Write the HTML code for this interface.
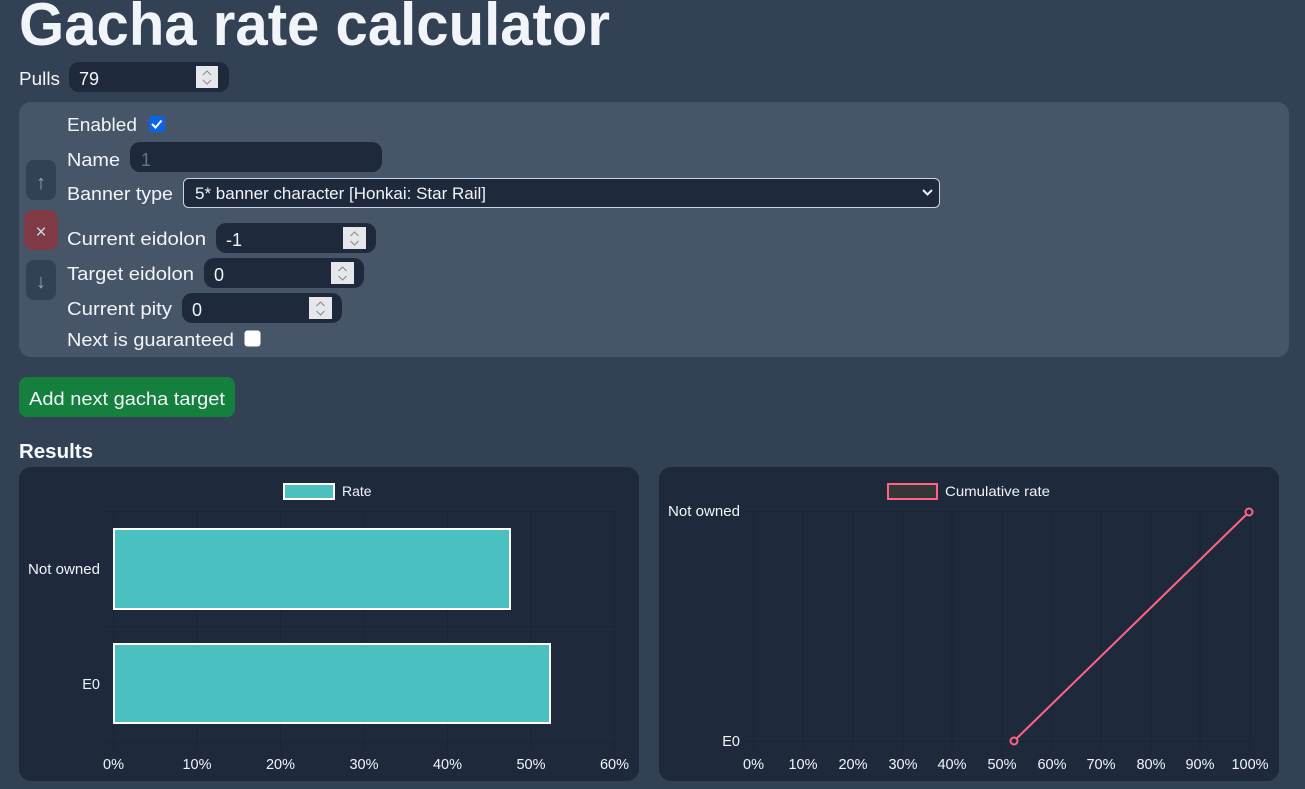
<!DOCTYPE html>
<html><head><meta charset="utf-8"><style>
html,body{margin:0;padding:0;background:#334155;}
svg{display:block;}
text{font-family:"Liberation Sans",sans-serif;}
</style></head><body>
<svg width="1305" height="789" viewBox="0 0 1305 789" xmlns="http://www.w3.org/2000/svg">
<rect width="1305" height="789" fill="#334155"/>
<text x="19" y="45" font-size="60" font-weight="bold" fill="#f1f5f9" textLength="591" lengthAdjust="spacingAndGlyphs">Gacha rate calculator</text>
<!-- Pulls -->
<text x="19" y="85" font-size="18" fill="#f1f5f9" textLength="41" lengthAdjust="spacingAndGlyphs">Pulls</text>
<rect x="69" y="62" width="160" height="30" rx="10" fill="#1e293b"/>
<text x="79" y="85" font-size="18" fill="#f1f5f9">79</text>
<rect x="196" y="66" width="22" height="22" fill="#e5e7eb"/>
<path d="M203 75 l4 -4 l4 4 M203 80 l4 4 l4 -4" stroke="#888" fill="none" stroke-width="1"/>
<!-- Panel -->
<rect x="19" y="102" width="1270" height="255" rx="12" fill="#475569"/>
<text x="67" y="131" font-size="18" fill="#f1f5f9" textLength="70" lengthAdjust="spacingAndGlyphs">Enabled</text>
<rect x="149" y="116" width="16" height="16" rx="3" fill="#0b63e5"/>
<path d="M152 124 l3.5 3.5 l6 -7" stroke="#fff" stroke-width="2" fill="none"/>
<text x="67" y="166" font-size="18" fill="#f1f5f9" textLength="53" lengthAdjust="spacingAndGlyphs">Name</text>
<rect x="130" y="142" width="252" height="30" rx="10" fill="#1e293b"/>
<text x="141" y="166" font-size="18" fill="#64748b">1</text>
<text x="67" y="200" font-size="18" fill="#f1f5f9" textLength="106" lengthAdjust="spacingAndGlyphs">Banner type</text>
<rect x="183.5" y="178.5" width="756" height="29" rx="5" fill="#1e293b" stroke="#cbd5e1" stroke-width="1"/>
<text x="195" y="199" font-size="17" fill="#f1f5f9" textLength="291" lengthAdjust="spacingAndGlyphs">5* banner character [Honkai: Star Rail]</text>
<path d="M923 190 l4.5 4.5 l4.5 -4.5" stroke="#f1f5f9" stroke-width="2" fill="none"/>
<rect x="26" y="160" width="30" height="40" rx="8" fill="#334155"/>
<text x="41" y="189" font-size="20" fill="#94a3b8" text-anchor="middle">↑</text>
<rect x="24" y="210" width="34" height="40" rx="9" fill="#7f3a45"/>
<text x="41" y="238" font-size="19" fill="#cbd5e1" text-anchor="middle">×</text>
<rect x="26" y="260" width="30" height="40" rx="8" fill="#334155"/>
<text x="41" y="288" font-size="20" fill="#94a3b8" text-anchor="middle">↓</text>
<text x="67" y="245" font-size="18" fill="#f1f5f9" textLength="139" lengthAdjust="spacingAndGlyphs">Current eidolon</text>
<rect x="216" y="223" width="160" height="30" rx="10" fill="#1e293b"/>
<text x="226" y="246" font-size="18" fill="#f1f5f9">-1</text>
<rect x="343" y="227" width="23" height="22" fill="#e5e7eb"/>
<path d="M350.5 236 l4 -4 l4 4 M350.5 241 l4 4 l4 -4" stroke="#888" fill="none"/>
<text x="67" y="280" font-size="18" fill="#f1f5f9" textLength="127" lengthAdjust="spacingAndGlyphs">Target eidolon</text>
<rect x="204" y="258" width="160" height="30" rx="10" fill="#1e293b"/>
<text x="214" y="281" font-size="18" fill="#f1f5f9">0</text>
<rect x="331" y="262" width="23" height="22" fill="#e5e7eb"/>
<path d="M338.5 271 l4 -4 l4 4 M338.5 276 l4 4 l4 -4" stroke="#888" fill="none"/>
<text x="67" y="315" font-size="18" fill="#f1f5f9" textLength="105" lengthAdjust="spacingAndGlyphs">Current pity</text>
<rect x="182" y="293" width="160" height="30" rx="10" fill="#1e293b"/>
<text x="192" y="316" font-size="18" fill="#f1f5f9">0</text>
<rect x="309" y="297" width="23" height="22" fill="#e5e7eb"/>
<path d="M316.5 306 l4 -4 l4 4 M316.5 311 l4 4 l4 -4" stroke="#888" fill="none"/>
<text x="67" y="346" font-size="18" fill="#f1f5f9" textLength="167" lengthAdjust="spacingAndGlyphs">Next is guaranteed</text>
<rect x="244.5" y="330.5" width="16" height="16" rx="3" fill="#fff"/>
<!-- Add button -->
<rect x="19" y="377" width="216" height="40" rx="8" fill="#15803d"/>
<text x="29" y="405" font-size="18" fill="#f1f5f9" textLength="196" lengthAdjust="spacingAndGlyphs">Add next gacha target</text>
<text x="19" y="458" font-size="20" font-weight="bold" fill="#f8fafc" textLength="74" lengthAdjust="spacingAndGlyphs">Results</text>
<!-- Left chart -->
<rect x="19" y="467" width="620" height="314" rx="12" fill="#1e293b"/>
<g stroke="#1a2433" stroke-width="1">
<line x1="113.5" y1="511" x2="113.5" y2="750"/><line x1="197" y1="511" x2="197" y2="750"/><line x1="280.5" y1="511" x2="280.5" y2="750"/><line x1="364" y1="511" x2="364" y2="750"/><line x1="447.5" y1="511" x2="447.5" y2="750"/><line x1="531" y1="511" x2="531" y2="750"/><line x1="614.5" y1="511" x2="614.5" y2="750"/>
<line x1="104" y1="511.5" x2="615" y2="511.5"/><line x1="104" y1="626.5" x2="615" y2="626.5"/><line x1="104" y1="742.5" x2="615" y2="742.5"/>
</g>
<rect x="114" y="529" width="396" height="80" fill="#4bc0c0" stroke="#fff" stroke-width="2"/>
<rect x="114" y="644" width="436" height="79" fill="#4bc0c0" stroke="#fff" stroke-width="2"/>
<rect x="284" y="484" width="50" height="15" fill="#4bc0c0" stroke="#fff" stroke-width="2"/>
<text x="342" y="496" font-size="14" fill="#f1f5f9">Rate</text>
<g font-size="14.5" fill="#f1f5f9" text-anchor="end">
<text x="100" y="574" textLength="72" lengthAdjust="spacingAndGlyphs">Not owned</text><text x="100" y="689">E0</text>
</g>
<g font-size="14.5" fill="#f1f5f9" text-anchor="middle">
<text x="113.5" y="769">0%</text><text x="197" y="769">10%</text><text x="280.5" y="769">20%</text><text x="364" y="769">30%</text><text x="447.5" y="769">40%</text><text x="531" y="769">50%</text><text x="614.5" y="769">60%</text>
</g>
<!-- Right chart -->
<rect x="659" y="467" width="620" height="314" rx="12" fill="#1e293b"/>
<g stroke="#1a2433" stroke-width="1">
<line x1="753.5" y1="511" x2="753.5" y2="750"/><line x1="803" y1="511" x2="803" y2="750"/><line x1="853" y1="511" x2="853" y2="750"/><line x1="903" y1="511" x2="903" y2="750"/><line x1="952" y1="511" x2="952" y2="750"/><line x1="1002" y1="511" x2="1002" y2="750"/><line x1="1052" y1="511" x2="1052" y2="750"/><line x1="1101" y1="511" x2="1101" y2="750"/><line x1="1151" y1="511" x2="1151" y2="750"/><line x1="1200" y1="511" x2="1200" y2="750"/><line x1="1250" y1="511" x2="1250" y2="750"/>
<line x1="744" y1="511.5" x2="1250" y2="511.5"/><line x1="744" y1="741.5" x2="1250" y2="741.5"/>
</g>
<line x1="1014" y1="741" x2="1249" y2="512" stroke="#ff6384" stroke-width="2"/>
<circle cx="1014" cy="741" r="3.5" fill="#1e293b" stroke="#ff6384" stroke-width="2"/>
<circle cx="1249" cy="512" r="3.5" fill="#1e293b" stroke="#ff6384" stroke-width="2"/>
<rect x="888" y="484" width="49" height="15" fill="#363636" stroke="#ff6384" stroke-width="2"/>
<text x="945" y="496" font-size="14" fill="#f1f5f9" textLength="105" lengthAdjust="spacingAndGlyphs">Cumulative rate</text>
<g font-size="14.5" fill="#f1f5f9" text-anchor="end">
<text x="740" y="516" textLength="72" lengthAdjust="spacingAndGlyphs">Not owned</text><text x="740" y="746">E0</text>
</g>
<g font-size="14.5" fill="#f1f5f9" text-anchor="middle">
<text x="753.5" y="769">0%</text><text x="803" y="769">10%</text><text x="853" y="769">20%</text><text x="903" y="769">30%</text><text x="952" y="769">40%</text><text x="1002" y="769">50%</text><text x="1052" y="769">60%</text><text x="1101" y="769">70%</text><text x="1151" y="769">80%</text><text x="1200" y="769">90%</text><text x="1250" y="769">100%</text>
</g>
</svg>
</body></html>
